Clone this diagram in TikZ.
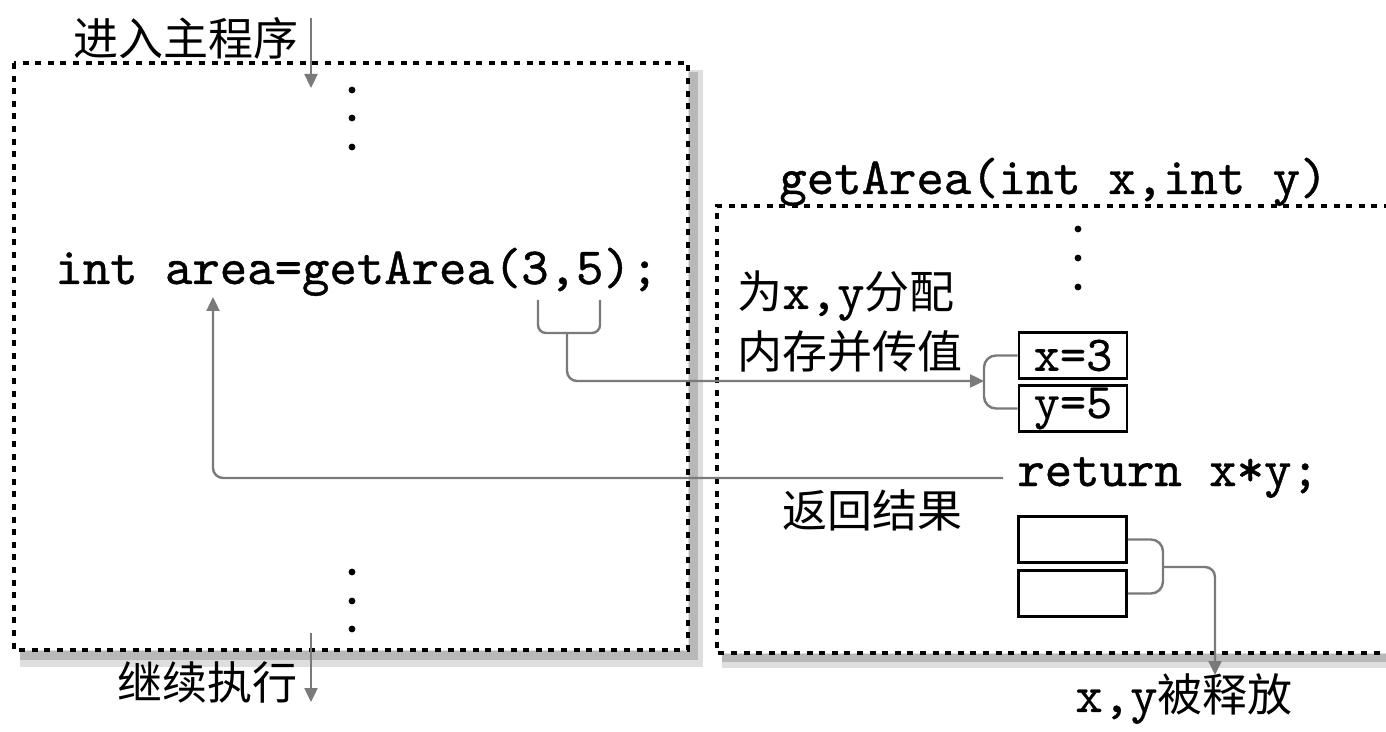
\documentclass[tikz,border=0pt]{standalone}
\usepackage{fontspec}
\setmainfont{Noto Sans CJK SC}
\newfontfamily\codefont{lmmono10-regular.otf}[FakeBold=0.8]
\newfontfamily\boxfont{lmmono10-regular.otf}[FakeBold=0.4]
\usetikzlibrary{arrows.meta}
\definecolor{connc}{HTML}{7A7A7A}
\definecolor{shadowc}{HTML}{B8B8B8}
\definecolor{shadowl}{HTML}{DEDEDE}
\begin{document}
\begin{tikzpicture}[x=0.5pt,y=-0.5pt,
  conn/.style={draw=connc, line width=1.2pt},
  tip/.style={-{Triangle[length=7pt,width=6.5pt]}},
  frame/.style={draw=black, line width=1.7pt, dash pattern=on 3pt off 3.3pt},
  codetext/.style={inner sep=0pt, font=\fontsize{26.1}{30}\selectfont\codefont},
  cjktext/.style={inner sep=0pt, font=\fontsize{22.5}{27}\selectfont},
  membox/.style={draw=black, line width=1.4pt, inner sep=0pt, minimum width=54pt,
    minimum height=23pt, font=\fontsize{25}{28}\selectfont\boxfont},
  dotmark/.style={fill=black}]
\useasboundingbox (0,0) rectangle (1386,732);
\fill[white] (0,0) rectangle (1386,732);

% shadows
\fill[shadowl] (688,70) rectangle (703,665);
\fill[shadowl] (20,650) rectangle (703,667);
\fill[shadowc] (689,72) rectangle (698,660);
\fill[shadowc] (20,651) rectangle (698,660);
\fill[shadowl] (722,653) rectangle (1386,668);
\fill[shadowc] (722,654) rectangle (1386,662);

% frames
\draw[frame] (14,63) rectangle (688,650);
\draw[frame] (1390,206) -- (717,206) -- (717,653) -- (1390,653);

% dots
\foreach \yy in {90,118,147,572,601,629} \fill[dotmark] (352,\yy) circle[radius=1.7pt];
\foreach \yy in {229,258,287} \fill[dotmark] (1078,\yy) circle[radius=1.7pt];

% texts
\node[cjktext, anchor=west] (enter) at (73,38) {进入主程序};
\node[cjktext, anchor=west] (cont) at (117,682) {继续执行};
\node[codetext, anchor=base west] (call) at (55,284) {int area=getArea(3,5);};
\node[codetext, anchor=base west] (sig) at (779,194) {getArea(int x,int y)};
\node[codetext, anchor=base west] (ret) at (1017,486) {return x*y;};
\node[cjktext, anchor=west] (alloc1) at (737,296) {为{\fontsize{26.1}{30}\selectfont\boxfont x,y}分配};
\node[cjktext, anchor=west] (alloc2) at (737,351) {内存并传值};
\node[cjktext, anchor=west] (back) at (782,510) {返回结果};
\node[cjktext, anchor=west] (free) at (1075,699) {{\fontsize{26.1}{30}\selectfont\boxfont x,y}被释放};

% memory boxes
\node[membox] (bx) at (1073,355.5) {x=3};
\node[membox] (by) at (1073,408.5) {y=5};
\node[membox] (be1) at (1072.5,539.5) {};
\node[membox] (be2) at (1072.5,593.5) {};

% coordinates
\coordinate (enterS) at (311,18);
\coordinate (enterE) at (311,88);
\coordinate (contS) at (311,633);
\coordinate (contE) at (311,702);
\coordinate (argL) at (538,300);
\coordinate (argR) at (600,300);
\coordinate (argB) at (600,333);
\coordinate (argStem) at (567,333);
\coordinate (bj) at (984,381);
\coordinate (retL) at (1003,478);
\coordinate (areaT) at (213,297);
\coordinate (ej) at (1163,567);
\coordinate (freeT) at (1215,675);

% connectors
\draw[conn, tip] (enterS) -- (enterE);
\draw[conn, tip] (contS) -- (contE);
\draw[conn, rounded corners=4pt] (argL) |- (argB) -- (argR);
\draw[conn, rounded corners=5pt, tip] (argStem) |- (bj);
\draw[conn, rounded corners=6pt] (bx.west) -| (bj) |- (by.west);
\draw[conn, rounded corners=5pt, tip] (retL) -| (areaT);
\draw[conn, rounded corners=6pt] (be1.east) -| (ej) |- (be2.east);
\draw[conn, rounded corners=5pt, tip] (ej) -| (freeT);
\end{tikzpicture}
\end{document}
